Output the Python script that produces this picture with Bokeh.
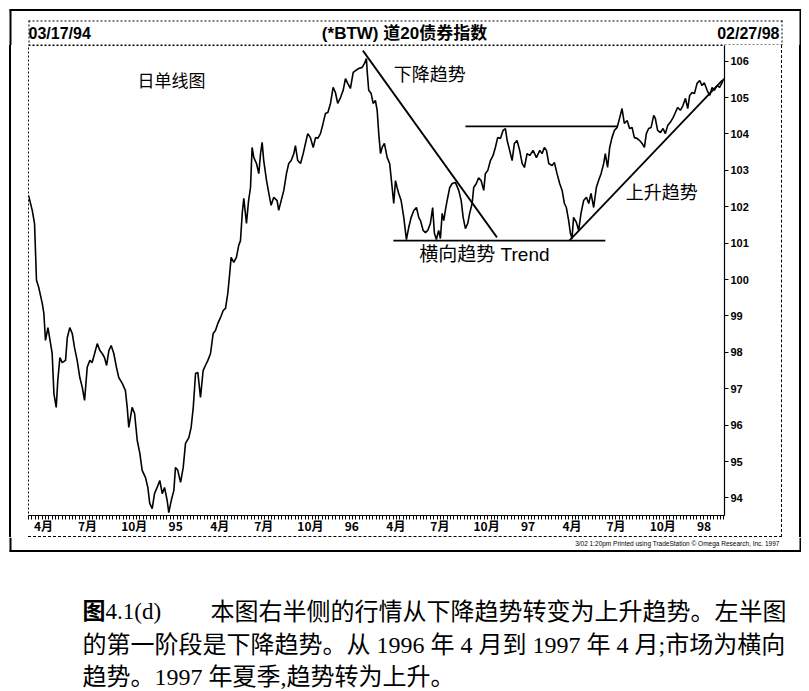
from bokeh.plotting import figure
from bokeh.models import Label, FixedTicker, Range1d
from bokeh.layouts import column, row
from bokeh.embed import file_html
from bokeh.resources import INLINE
import numpy as np

# ---------------- data ----------------
t = [1994.210, 1994.231, 1994.244, 1994.255, 1994.268, 1994.288, 1994.297, 1994.306, 1994.320, 1994.335,
     1994.344, 1994.354, 1994.367, 1994.376, 1994.388, 1994.401, 1994.420, 1994.430, 1994.444, 1994.458,
     1994.471, 1994.486, 1994.501, 1994.515, 1994.528, 1994.543, 1994.558, 1994.571, 1994.585, 1994.600,
     1994.615, 1994.628, 1994.641, 1994.653, 1994.666, 1994.679, 1994.694, 1994.709, 1994.722, 1994.742,
     1994.760, 1994.770, 1994.779, 1994.798, 1994.812, 1994.827, 1994.842, 1994.855, 1994.874, 1994.887,
     1994.898, 1994.912, 1994.925, 1994.940, 1994.955, 1994.969, 1994.982, 1994.997, 1995.006, 1995.020,
     1995.035, 1995.044, 1995.057, 1995.073, 1995.088, 1995.101, 1995.120, 1995.133, 1995.145, 1995.158,
     1995.171, 1995.186, 1995.201, 1995.214, 1995.228, 1995.243, 1995.258, 1995.271, 1995.284, 1995.300,
     1995.315, 1995.328, 1995.341, 1995.352, 1995.360, 1995.375, 1995.390, 1995.403, 1995.413, 1995.423,
     1995.432, 1995.447, 1995.459, 1995.470, 1995.479, 1995.489, 1995.504, 1995.517, 1995.527, 1995.536,
     1995.545, 1995.561, 1995.574, 1995.587, 1995.602, 1995.621, 1995.630, 1995.644, 1995.659, 1995.674,
     1995.687, 1995.701, 1995.716, 1995.725, 1995.738, 1995.754, 1995.769, 1995.782, 1995.795, 1995.810,
     1995.826, 1995.839, 1995.852, 1995.867, 1995.882, 1995.895, 1995.909, 1995.924, 1995.939, 1995.952,
     1995.965, 1995.981, 1995.996, 1996.009, 1996.022, 1996.037, 1996.053, 1996.066, 1996.084, 1996.104,
     1996.117, 1996.128, 1996.132, 1996.141, 1996.155, 1996.166, 1996.179, 1996.189, 1996.198, 1996.208,
     1996.217, 1996.230, 1996.246, 1996.260, 1996.274, 1996.283, 1996.293, 1996.302, 1996.311, 1996.325,
     1996.340, 1996.355, 1996.368, 1996.382, 1996.397, 1996.412, 1996.425, 1996.435, 1996.450, 1996.463,
     1996.476, 1996.491, 1996.504, 1996.514, 1996.525, 1996.538, 1996.548, 1996.558, 1996.567, 1996.576,
     1996.586, 1996.601, 1996.615, 1996.633, 1996.652, 1996.666, 1996.677, 1996.690, 1996.703, 1996.714,
     1996.728, 1996.737, 1996.752, 1996.765, 1996.779, 1996.794, 1996.803, 1996.817, 1996.832, 1996.847,
     1996.860, 1996.873, 1996.889, 1996.904, 1996.917, 1996.927, 1996.941, 1996.955, 1996.968, 1996.983,
     1996.998, 1997.012, 1997.025, 1997.040, 1997.055, 1997.074, 1997.093, 1997.112, 1997.125, 1997.138,
     1997.150, 1997.163, 1997.182, 1997.195, 1997.210, 1997.225, 1997.239, 1997.252, 1997.263, 1997.276,
     1997.286, 1997.295, 1997.304, 1997.320, 1997.333, 1997.346, 1997.361, 1997.377, 1997.390, 1997.403,
     1997.418, 1997.433, 1997.446, 1997.460, 1997.475, 1997.484, 1997.497, 1997.509, 1997.522, 1997.536,
     1997.551, 1997.566, 1997.579, 1997.592, 1997.608, 1997.622, 1997.636, 1997.649, 1997.664, 1997.679,
     1997.693, 1997.706, 1997.717, 1997.730, 1997.744, 1997.759, 1997.768, 1997.781, 1997.797, 1997.812,
     1997.825, 1997.838, 1997.853, 1997.869, 1997.882, 1997.895, 1997.910, 1997.925, 1997.939, 1997.952,
     1997.963, 1997.977, 1997.990, 1998.005, 1998.020, 1998.033, 1998.046, 1998.062, 1998.077, 1998.090,
     1998.103, 1998.118, 1998.133, 1998.147, 1998.156]

price = [102.31, 101.90, 101.54, 99.98, 99.78, 99.34, 99.07, 98.33, 98.68, 98.24,
         97.97, 96.87, 96.49, 97.23, 97.86, 97.72, 97.78, 98.41, 98.68, 98.52,
         98.13, 97.78, 97.31, 97.04, 96.68, 97.59, 97.78, 97.72, 97.97, 98.24,
         98.05, 97.97, 97.86, 97.64, 98.05, 98.19, 97.97, 97.59, 97.31, 97.15,
         96.95, 96.49, 95.94, 96.49, 96.32, 95.58, 95.22, 94.76, 94.56, 94.29,
         93.85, 93.71, 94.12, 94.29, 94.48, 94.12, 94.29, 93.93, 93.60, 93.93,
         94.21, 94.84, 94.76, 94.43, 94.84, 95.50, 95.66, 95.94, 96.49, 97.42,
         97.45, 96.76, 97.50, 97.64, 97.78, 97.97, 98.52, 98.60, 98.79, 98.96,
         99.15, 99.21, 99.62, 100.17, 100.61, 100.47, 100.61, 100.94, 101.07, 101.82,
         102.23, 101.54, 102.17, 102.53, 103.63, 103.35, 103.19, 102.91, 103.46, 103.77,
         103.27, 102.72, 102.37, 102.04, 102.26, 102.17, 101.90, 102.17, 102.45, 102.91,
         103.19, 103.27, 103.46, 103.68, 103.27, 103.19, 103.46, 103.74, 104.01, 103.90,
         103.63, 103.90, 103.88, 104.01, 104.29, 104.56, 104.59, 104.84, 105.28, 105.14,
         104.84, 105.00, 105.20, 105.52, 105.39, 105.25, 105.69, 105.74, 105.80, 105.83,
         105.94, 106.07, 105.74, 105.20, 105.11, 104.84, 104.92, 104.65, 104.01, 103.46,
         103.63, 103.74, 103.35, 103.19, 102.53, 102.09, 102.72, 102.53, 102.37, 102.17,
         101.71, 101.10, 101.43, 101.71, 101.90, 101.98, 101.71, 101.62, 101.35, 101.29,
         101.35, 101.54, 101.98, 101.27, 101.10, 101.35, 101.13, 101.82, 101.62, 101.90,
         102.17, 102.53, 102.64, 102.67, 102.45, 102.17, 101.71, 101.40, 101.54, 101.82,
         102.09, 102.53, 102.64, 102.80, 102.72, 102.45, 102.91, 103.00, 103.27, 103.41,
         103.63, 103.90, 103.88, 104.10, 104.15, 103.82, 103.55, 103.27, 103.74, 103.82,
         103.55, 103.19, 103.08, 103.46, 103.41, 103.55, 103.35, 103.55, 103.46, 103.63,
         103.55, 103.19, 103.13, 103.22, 102.91, 102.64, 102.45, 102.09, 101.98, 101.62,
         101.27, 101.13, 101.71, 101.57, 101.35, 101.82, 102.17, 102.26, 102.09, 102.37,
         101.98, 102.53, 102.72, 102.91, 103.19, 103.46, 103.08, 103.63, 103.90, 104.10,
         104.18, 104.45, 104.70, 104.29, 104.37, 104.15, 104.18, 103.90, 103.88, 103.82,
         103.74, 103.63, 104.01, 104.15, 104.18, 104.51, 104.43, 104.10, 104.04, 104.15,
         104.01, 104.23, 104.32, 104.45, 104.59, 104.73, 104.65, 104.78, 104.98, 104.70,
         105.06, 105.14, 105.11, 105.39, 105.47, 105.33, 105.41, 105.20, 105.06, 105.28,
         105.20, 105.33, 105.28, 105.41, 105.52]

# trend lines drawn on the chart
down_t, down_v = [1996.108, 1996.869], [106.29, 101.16]
floor_t, floor_v = [1996.281, 1997.484], [101.07, 101.07]
ceil_t, ceil_v = [1996.690, 1997.551], [104.21, 104.21]
up_t, up_v = [1997.280, 1998.148], [101.07, 105.47]

# axis ticks
y_ticks = list(range(94, 107))
x_quarters = [1994.25, 1994.5, 1994.75, 1995.0, 1995.25, 1995.5, 1995.75, 1996.0,
              1996.25, 1996.5, 1996.75, 1997.0, 1997.25, 1997.5, 1997.75, 1998.0]
x_labels = ["4月", "7月", "10月", "95", "4月", "7月", "10月", "96",
            "4月", "7月", "10月", "97", "4月", "7月", "10月", "98"]
t_start, t_end = 1994.2097, 1998.1607   # 03/17/94 .. 02/27/98

header_left, header_title, header_right = "03/17/94", "(*BTW) 道20债券指数", "02/27/98"
credit = "3/02 1:20pm Printed using TradeStation © Omega Research, Inc. 1997"
caption_fig, caption_num = "图", "4.1(d)"
caption_lines = ["本图右半侧的行情从下降趋势转变为上升趋势。左半图",
                 "的第一阶段是下降趋势。从 1996 年 4 月到 1997 年 4 月;市场为横向",
                 "趋势。1997 年夏季,趋势转为上升。"]

HFONT = "Liberation Sans Narrow, Liberation Sans, Noto Sans CJK SC"
CFONT = "Liberation Serif, Noto Sans CJK SC"


def deco(width, height, x0, x1, y0, y1):
    """A plain drawing panel whose data units are page pixels (y downwards)."""
    f = figure(width=width, height=height, output_backend="svg", toolbar_location=None, title=None,
               x_range=Range1d(x0, x1), y_range=Range1d(y1, y0),
               x_axis_location=None, y_axis_location=None, min_border=0)
    f.xgrid.visible = False
    f.ygrid.visible = False
    f.outline_line_color = None
    f.background_fill_color = "white"
    f.border_fill_color = "white"
    return f


def seg(f, x0, y0, x1, y1, w=1.0, dash="solid"):
    f.segment(x0=[x0], y0=[y0], x1=[x1], y1=[y1], line_color="black", line_width=w, line_dash=dash)


def txt(f, x, y, text, size, font, align="left", style="normal"):
    f.add_layout(Label(x=x, y=y, text=text, text_font=font, text_font_size=size,
                       text_font_style=style, text_align=align, text_baseline="middle",
                       text_color="black"))


# ---------------- header strip ----------------
top = deco(801, 45, 0, 801, 0, 45)
seg(top, 9, 9.5, 801, 9.5, 2)
seg(top, 10, 9, 10, 45, 2)
seg(top, 800, 9, 800, 45, 2)
seg(top, 28, 20.5, 782, 20.5, 1, "2 2")
seg(top, 28.5, 20, 28.5, 45, 1, "2 2")
seg(top, 781.5, 20, 781.5, 45, 1, "2 2")
seg(top, 28, 44.5, 782, 44.5, 1, "2 2")
txt(top, 28, 32.5, header_left, "16px", HFONT, "left", "bold")
txt(top, 404, 32.5, header_title, "17px", HFONT, "center", "bold")
txt(top, 779, 32.5, header_right, "16px", HFONT, "right", "bold")

# ---------------- main chart ----------------
p = figure(frame_width=696, frame_height=470, output_backend="svg", toolbar_location=None, title=None,
           x_range=Range1d(t_start, t_end), y_range=Range1d(93.519, 106.431),
           x_axis_location="below", y_axis_location="right",
           min_border_left=0, min_border_right=57, min_border_top=0, min_border_bottom=16)
p.xgrid.visible = False
p.ygrid.visible = False
p.background_fill_color = "white"
p.border_fill_color = "white"
p.outline_line_color = "black"
p.outline_line_dash = "2 2"
p.outline_line_width = 1

p.line(t, price, line_color="black", line_width=1.6)
for xs, ys in [(down_t, down_v), (floor_t, floor_v), (ceil_t, ceil_v), (up_t, up_v)]:
    p.line(xs, ys, line_color="black", line_width=1.8)

ya = p.yaxis[0]
ya.ticker = FixedTicker(ticks=y_ticks, minor_ticks=[])
ya.major_tick_out = 4
ya.major_tick_in = 0
ya.major_label_standoff = 2
ya.axis_label_standoff = 0
ya.axis_line_color = "black"
ya.axis_line_width = 1.2
ya.major_label_text_font = "Liberation Sans Narrow, Liberation Sans"
ya.major_label_text_font_style = "bold"
ya.major_label_text_font_size = "11px"
ya.major_label_text_color = "black"

xa = p.xaxis[0]
label_pos = [q + (0.06 if lab == "10月" else 0.045) for q, lab in zip(x_quarters, x_labels)]
weeks = list(np.arange(t_start, t_end, 7 / 365.25))
xa.ticker = FixedTicker(ticks=label_pos, minor_ticks=weeks)
xa.major_label_overrides = {pos: lab for pos, lab in zip(label_pos, x_labels)}
xa.major_tick_out = 0
xa.major_tick_in = 0
xa.minor_tick_out = 4
xa.minor_tick_in = 0
xa.major_label_standoff = -3
xa.axis_label_standoff = 0
xa.axis_line_color = "black"
xa.major_label_text_font = "Liberation Sans Narrow, Noto Sans CJK SC"
xa.major_label_text_font_style = "bold"
xa.major_label_text_font_size = "12px"
xa.major_label_text_line_height = 1.0
xa.major_label_text_color = "black"


def dlabel(x, y, text, size="18px"):
    p.add_layout(Label(x=x, y=y, text=text, text_font="Liberation Sans, Noto Sans CJK SC",
                       text_font_size=size, text_align="center", text_baseline="middle",
                       text_color="black"))


dlabel(1995.021, 105.44, "日单线图", "17px")
dlabel(1996.488, 105.61, "下降趋势")
dlabel(1996.798, 100.69, "横向趋势 Trend", "19px")
dlabel(1997.805, 102.39, "上升趋势")

# frame around the chart: inner dashed box (right + bottom), outer solid box (left + right)
inner = row(p, styles={"border-right": "1px dashed black", "border-bottom": "1px dashed black"})
outer = row(inner, styles={"border-left": "2px solid black", "border-right": "2px solid black",
                           "padding-left": "17px", "padding-right": "17px"})
middle = row(outer, styles={"padding-left": "9px"})

# ---------------- bottom strip: outer bottom, credit, caption ----------------
bot = deco(801, 152, 0, 801, 537, 689)
seg(bot, 10, 537, 10, 551, 2)
seg(bot, 800, 537, 800, 551, 2)
seg(bot, 9, 550.5, 801, 550.5, 2)
txt(bot, 779, 543, credit, "6.5px", "Liberation Sans Narrow, Liberation Sans", "right")
txt(bot, 82, 611, caption_fig, "23px", CFONT, "left", "bold")
txt(bot, 105, 611, caption_num, "23px", CFONT, "left")
txt(bot, 210, 611, caption_lines[0], "24px", CFONT)
txt(bot, 82, 644, caption_lines[1], "24px", CFONT)
txt(bot, 82, 676, caption_lines[2], "24px", CFONT)

layout = column(top, middle, bot)
open("out.html", "w").write(file_html(layout, INLINE))
